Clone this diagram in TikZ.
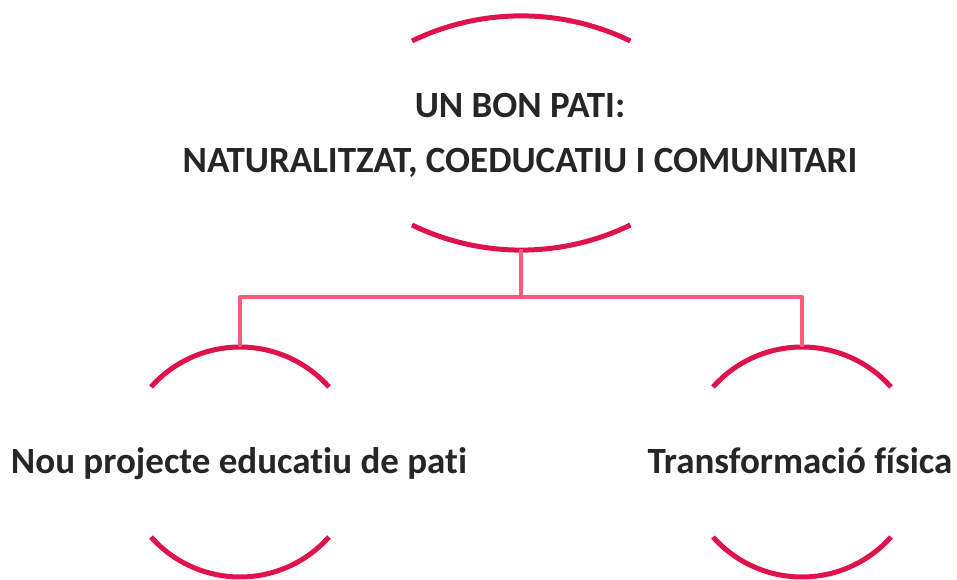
\documentclass[tikz,border=0pt]{standalone}
\usepackage{fontspec}
\setmainfont{Carlito}[Ligatures=NoCommon]
\usepackage{tikz}
\definecolor{arccol}{HTML}{E0124C}
\definecolor{linecol}{HTML}{FF5A78}
\definecolor{textcol}{HTML}{262626}

\begin{document}
\begin{tikzpicture}[x=1pt, y=1pt,
  arcline/.style={arccol, line width=5pt},
  connline/.style={linecol, line width=4pt},
  label/.style={textcol, font=\fontsize{37}{44}\selectfont\bfseries, anchor=base, inner sep=0pt}]
\useasboundingbox (0,0) rectangle (957,580);
% textos
\node [label] (titol1) at (520,462) {UN BON PATI:};
\node [label] (titol2) at (520,407) {NATURALITZAT, COEDUCATIU I COMUNITARI};
\node [label] (nou) at (239,106) {Nou projecte educatiu de pati};
\node [label] (transf) at (800,106) {Transformació física};
% arcs
\draw [arcline] (412,539) arc [start angle=115.9, end angle=64.1, radius=250];
\draw [arcline] (412,355) arc [start angle=244.1, end angle=295.9, radius=250];
\draw [arcline] (151,193) arc [start angle=138.4, end angle=41.6, radius=119];
\draw [arcline] (151,43) arc [start angle=221.6, end angle=318.4, radius=119];
\draw [arcline] (713,193) arc [start angle=138.4, end angle=41.6, radius=119];
\draw [arcline] (713,43) arc [start angle=221.6, end angle=318.4, radius=119];
% punts d'unio
\coordinate (tb) at (521,331);
\coordinate (nt) at (240,233);
\coordinate (tt) at (802,233);
% connexions
\draw [connline] (tb) -- (tb |- 0,283);
\draw [connline, line join=round] (nt) |- (521,283) -| (tt);
\end{tikzpicture}
\end{document}
